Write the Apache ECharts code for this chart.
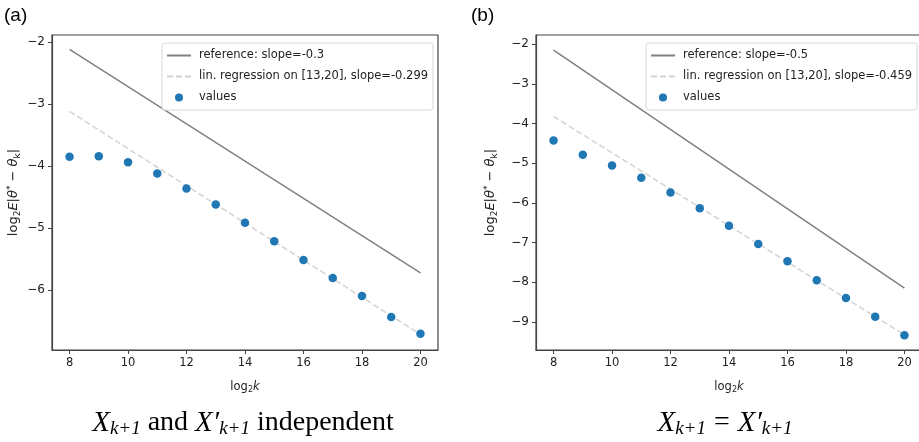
<!DOCTYPE html>
<html>
<head>
<meta charset="utf-8">
<script src="https://cdn.jsdelivr.net/npm/echarts@6/dist/echarts.min.js"></script>
<style>html,body{margin:0;padding:0;background:#fff;}#c{width:919px;height:442px;}</style>
</head>
<body>
<div id="c"></div>
<script>
// ---- data ----
const ks = [8, 9, 10, 11, 12, 13, 14, 15, 16, 17, 18, 19, 20];
const valuesA = [-3.85, -3.84, -3.94, -4.12, -4.36, -4.62, -4.91, -5.21, -5.51, -5.80, -6.09, -6.43, -6.70];
const valuesB = [-4.43, -4.79, -5.06, -5.37, -5.74, -6.14, -6.58, -7.04, -7.47, -7.95, -8.40, -8.87, -9.34];
const lineX = [8, 20];
const refAY = [-2.12, -5.72];
const regAY = [-3.12, -6.71];
const refBY = [-2.15, -8.15];
const regBY = [-3.82, -9.33];
const xTicks = [8, 10, 12, 14, 16, 18, 20];
const yTicksA = [-6, -5, -4, -3, -2];
const yTicksB = [-9, -8, -7, -6, -5, -4, -3, -2];
const namesA = ['reference: slope=-0.3', 'lin. regression on [13,20], slope=-0.299', 'values'];
const namesB = ['reference: slope=-0.5', 'lin. regression on [13,20], slope=-0.459', 'values'];

const pair = (xs, ys) => xs.map((x, i) => [x, ys[i]]);
const FONT = 'DejaVu Sans';
const AX = '#444';
const TX = '#222';
const fmt = v => String(v).replace('-', '\u2212');

function xAxis(gi) {
  return {
    type: 'value', gridIndex: gi, min: 7.4, max: 20.6,
    axisLine: {show: true, lineStyle: {color: AX, width: 1.2}},
    axisTick: {show: true, length: 4, lineStyle: {color: AX}, customValues: xTicks},
    axisLabel: {fontFamily: FONT, fontSize: 11.5, color: TX, margin: 7, customValues: xTicks, formatter: fmt},
    splitLine: {show: false},
    name: '{n|log}{s|2}{i|k}', nameLocation: 'middle', nameGap: 30,
    nameTextStyle: {rich: {
      n: {fontFamily: FONT, fontSize: 11.5, color: TX},
      s: {fontFamily: FONT, fontSize: 8, color: TX, verticalAlign: 'bottom', padding: [6, 0, 0, 0]},
      i: {fontFamily: FONT, fontSize: 11.5, color: TX, fontStyle: 'italic'}
    }}
  };
}
function yAxis(gi, min, max, ticks, gap) {
  return {
    type: 'value', gridIndex: gi, min: min, max: max,
    axisLine: {show: true, lineStyle: {color: AX, width: 1.2}},
    axisTick: {show: true, length: 4, lineStyle: {color: AX}, customValues: ticks},
    axisLabel: {fontFamily: FONT, fontSize: 12, color: TX, margin: 7, customValues: ticks, formatter: fmt},
    splitLine: {show: false},
    name: '{n|log}{s|2}{i|E}{n||}{i|θ}{p|*}{n| − }{i|θ}{s|k}{n||}',
    nameLocation: 'middle', nameGap: gap, nameRotate: 90,
    nameTextStyle: {rich: {
      n: {fontFamily: FONT, fontSize: 13, color: TX},
      s: {fontFamily: FONT, fontSize: 9, color: TX, verticalAlign: 'bottom', padding: [7, 0, 0, 0]},
      p: {fontFamily: FONT, fontSize: 9, color: TX, verticalAlign: 'top', padding: [0, 0, 7, 0]},
      i: {fontFamily: FONT, fontSize: 13, color: TX, fontStyle: 'italic'}
    }}
  };
}
function series(gi, names, refY, regY, vals) {
  return [
    {type: 'line', name: names[0], xAxisIndex: gi, yAxisIndex: gi, data: pair(lineX, refY),
     symbol: 'none', lineStyle: {color: '#808080', width: 1.5}, itemStyle: {color: '#808080'}, z: 2, silent: true},
    {type: 'line', name: names[1], xAxisIndex: gi, yAxisIndex: gi, data: pair(lineX, regY),
     symbol: 'none', lineStyle: {color: '#d3d3d3', width: 1.5, type: [6, 3]}, itemStyle: {color: '#d3d3d3'}, z: 2, silent: true},
    {type: 'scatter', name: names[2], xAxisIndex: gi, yAxisIndex: gi, data: pair(ks, vals),
     symbol: 'circle', symbolSize: 8.5, itemStyle: {color: '#1f77b4', opacity: 1}, z: 3, silent: true}
  ];
}
function legend(left, names) {
  return {
    left: left, top: 43, orient: 'vertical',
    data: [
      {name: names[0], itemStyle: {opacity: 0}},
      {name: names[1], itemStyle: {opacity: 0}},
      {name: names[2], icon: 'circle', itemStyle: {color: '#1f77b4'}}
    ],
    itemWidth: 24, itemHeight: 8, itemGap: 8,
    padding: [6, 5, 6, 4],
    backgroundColor: 'rgba(255,255,255,0.85)', borderColor: '#d8d8d8', borderWidth: 1, borderRadius: 3,
    textStyle: {fontFamily: FONT, fontSize: 11.5, color: TX, padding: [0, 0, 0, 3], lineHeight: 13},
    selectedMode: false
  };
}
const capStyle = {
  i: {fontFamily: 'Liberation Serif', fontStyle: 'italic', fontSize: 29, color: '#000'},
  n: {fontFamily: 'Liberation Serif', fontSize: 28, color: '#000'},
  e: {fontFamily: 'Liberation Serif', fontSize: 28, color: '#000', padding: [0, 8, 0, 8]},
  s: {fontFamily: 'Liberation Serif', fontStyle: 'italic', fontSize: 19, color: '#000', verticalAlign: 'bottom', padding: [12, 0, 0, 0]}
};

const chart = echarts.init(document.getElementById('c'), null, {renderer: 'canvas'});
chart.setOption({
  animation: false,
  backgroundColor: '#fff',
  grid: [
    {left: 52, top: 35, width: 386, height: 315, show: true, borderColor: AX, borderWidth: 1.2, containLabel: false, outerBoundsMode: 'none'},
    {left: 536, top: 35, width: 386, height: 315, show: true, borderColor: AX, borderWidth: 1.2, containLabel: false, outerBoundsMode: 'none'}
  ],
  xAxis: [xAxis(0), xAxis(1)],
  yAxis: [yAxis(0, -6.96, -1.89, yTicksA, 30), yAxis(1, -9.71, -1.77, yTicksB, 37)],
  legend: [legend(162, namesA), legend(646, namesB)],
  series: series(0, namesA, refAY, regAY, valuesA).concat(series(1, namesB, refBY, regBY, valuesB)),
  graphic: [
    {type: 'text', left: 4, top: 6, style: {text: '(a)', fontFamily: 'Liberation Sans', fontSize: 19, fill: '#000'}},
    {type: 'text', left: 471, top: 6, style: {text: '(b)', fontFamily: 'Liberation Sans', fontSize: 19, fill: '#000'}},
    {type: 'text', x: 243, y: 423, style: {
      text: '{i|X}{s|k+1}{n| and }{i|X′}{s|k+1}{n| independent}', align: 'center', verticalAlign: 'middle', rich: capStyle}},
    {type: 'text', x: 725, y: 423, style: {
      text: '{i|X}{s|k+1}{e|=}{i|X′}{s|k+1}', align: 'center', verticalAlign: 'middle', rich: capStyle}}
  ]
});
</script>
</body>
</html>
